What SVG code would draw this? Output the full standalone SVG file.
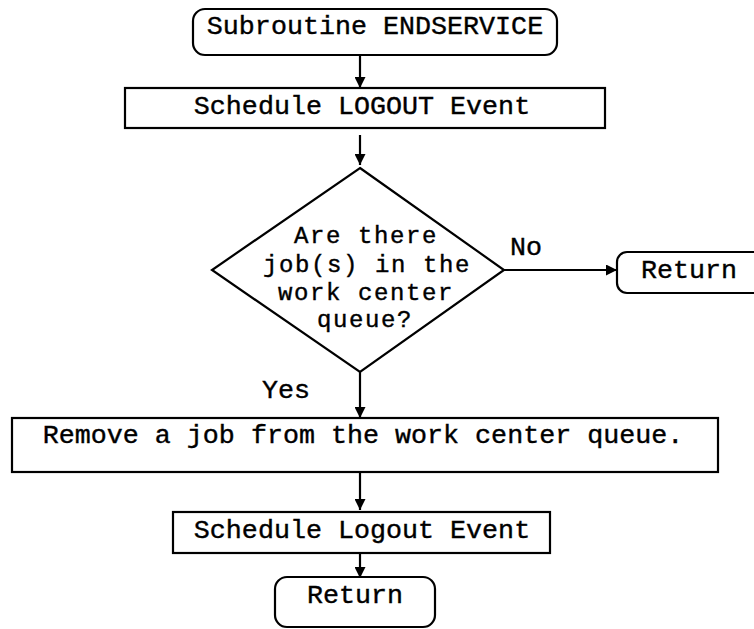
<svg xmlns="http://www.w3.org/2000/svg" width="754" height="629" viewBox="0 0 754 629">
  <style>
    .box { fill: #ffffff; stroke: #000000; stroke-width: 2.2; }
    .line { fill: none; stroke: #000000; stroke-width: 2.2; }
    text { font-family: "Liberation Mono", "Courier New", monospace; font-size: 26.7px; fill: #000000; stroke: #000000; stroke-width: 0.4; }
    .c { text-anchor: middle; }
    .q { font-size: 24px; letter-spacing: 1.6px; }
  </style>
  <defs>
    <marker id="arrow" viewBox="0 0 10 10" refX="10" refY="5" markerWidth="5" markerHeight="5" orient="auto" markerUnits="strokeWidth">
      <path d="M0,0 L10,5 L0,10 z" fill="#000000"/>
    </marker>
  </defs>
  <rect x="0" y="0" width="754" height="629" fill="#ffffff"/>

  <g id="connectors">
    <line class="line" x1="360" y1="55" x2="360" y2="88" marker-end="url(#arrow)"/>
    <line class="line" x1="360" y1="135" x2="360" y2="165" marker-end="url(#arrow)"/>
    <line class="line" x1="504" y1="270" x2="617" y2="270" marker-end="url(#arrow)"/>
    <line class="line" x1="360" y1="372" x2="360" y2="418" marker-end="url(#arrow)"/>
    <line class="line" x1="360" y1="472" x2="360" y2="510" marker-end="url(#arrow)"/>
    <line class="line" x1="360" y1="553" x2="360" y2="578" marker-end="url(#arrow)"/>
    <text x="510" y="255">No</text>
    <text x="262" y="398">Yes</text>
  </g>

  <g id="start">
    <rect class="box" x="193" y="9" width="364" height="46" rx="12"/>
    <text class="c" x="375" y="34">Subroutine ENDSERVICE</text>
  </g>

  <g id="schedule-logout-1">
    <rect class="box" x="125" y="88" width="480" height="40"/>
    <text class="c" x="362" y="114">Schedule LOGOUT Event</text>
  </g>

  <g id="decision">
    <polygon class="box" points="360,168 504,270 360,372 212,270"/>
    <text class="c q" x="366" y="243">Are there</text>
    <text class="c q" x="367" y="272">job(s) in the</text>
    <text class="c q" x="366" y="300">work center</text>
    <text class="c q" x="365" y="327">queue?</text>
  </g>

  <g id="return-no">
    <rect class="box" x="617" y="252" width="160" height="41" rx="10"/>
    <text x="641" y="278">Return</text>
  </g>

  <g id="remove-job">
    <rect class="box" x="12" y="418" width="706" height="54"/>
    <text class="c" x="363" y="443">Remove a job from the work center queue.</text>
  </g>

  <g id="schedule-logout-2">
    <rect class="box" x="173" y="512" width="377" height="41"/>
    <text class="c" x="362" y="538">Schedule Logout Event</text>
  </g>

  <g id="return-end">
    <rect class="box" x="275" y="577" width="160" height="50" rx="12"/>
    <text class="c" x="355" y="603">Return</text>
  </g>
</svg>
